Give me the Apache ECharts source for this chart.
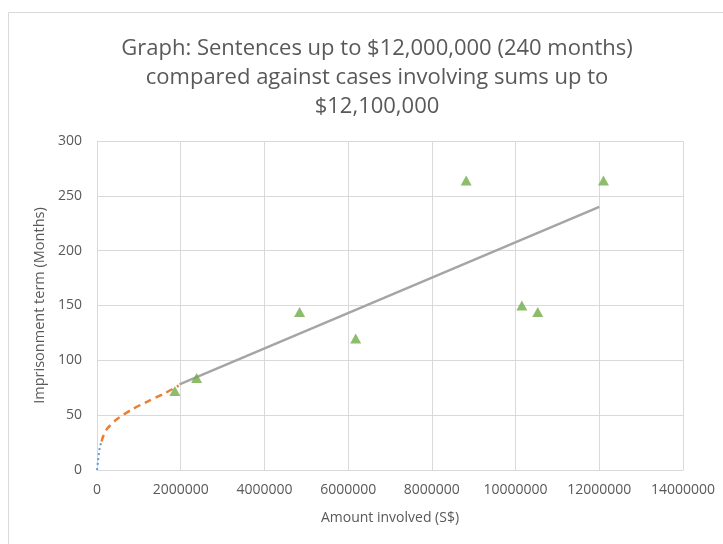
<!DOCTYPE html>
<html>
<head>
<meta charset="utf-8">
<script src="https://cdn.jsdelivr.net/npm/echarts@6/dist/echarts.min.js"></script>
<style>
  html, body { margin: 0; padding: 0; background: #fff; }
  #chart { width: 723px; height: 544px; }
</style>
</head>
<body>
<div id="chart"></div>
<script>
// cases plotted as triangles
const caseAmounts = [1860000, 2380000, 4840000, 6180000, 8820000, 10150000, 10530000, 12100000];
const caseMonths = [72, 84, 144, 120, 264, 150, 144, 264];

// sentencing scale
const blueAmounts = [0, 24000, 41000, 65000, 100000];
const blueMonths = [0, 8, 14, 20, 25];
const orangeAmounts = [110000, 150000, 250000, 465000, 825000, 1180000, 1620000, 1950000];
const orangeMonths = [26, 31, 38, 46, 55, 62, 70, 77];
const greyAmounts = [1970000, 12000000];
const greyMonths = [78, 240];

const xTicks = { min: 0, max: 14000000, interval: 2000000 };
const yTicks = { min: 0, max: 300, interval: 50 };

const zip = (xs, ys) => xs.map((x, i) => [x, ys[i]]);

const FONT = '"Open Sans", "Noto Sans", sans-serif';
const TXT = '#595959';
const GRID = '#d9d9d9';

const chart = echarts.init(document.getElementById('chart'));
chart.setOption({
  animation: false,
  title: {
    text: 'Graph: Sentences up to $12,000,000 (240 months)\ncompared against cases involving sums up to\n$12,100,000',
    left: 372,
    top: 29,
    textAlign: 'center',
    textStyle: {
      fontFamily: FONT,
      fontSize: 22,
      fontWeight: 'normal',
      color: TXT,
      lineHeight: 29
    }
  },
  graphic: [{
    type: 'rect',
    shape: { x: 8.5, y: 12.5, width: 800, height: 600 },
    style: { fill: 'none', stroke: GRID, lineWidth: 1 },
    silent: true
  }],
  grid: { left: 97, right: 40, top: 141, bottom: 74 },
  xAxis: {
    type: 'value',
    min: xTicks.min,
    max: xTicks.max,
    interval: xTicks.interval,
    name: 'Amount involved (S$)',
    nameLocation: 'middle',
    nameGap: 41,
    nameTextStyle: { fontFamily: FONT, fontSize: 14, color: TXT },
    axisLine: { show: true, lineStyle: { color: GRID } },
    axisTick: { show: false },
    axisLabel: {
      fontFamily: FONT, fontSize: 14, color: TXT, margin: 13,
      formatter: (v) => String(v)
    },
    splitLine: { show: true, lineStyle: { color: GRID } }
  },
  yAxis: {
    type: 'value',
    min: yTicks.min,
    max: yTicks.max,
    interval: yTicks.interval,
    name: 'Imprisonment term (Months)',
    nameLocation: 'middle',
    nameGap: 47,
    nameTextStyle: { fontFamily: FONT, fontSize: 14.5, color: TXT },
    axisLine: { show: false },
    axisTick: { show: false },
    axisLabel: { fontFamily: FONT, fontSize: 14, color: TXT, margin: 15 },
    splitLine: { show: true, lineStyle: { color: GRID } }
  },
  series: [
    {
      type: 'line',
      data: zip(blueAmounts, blueMonths),
      smooth: 0.3,
      symbol: 'none',
      lineStyle: { color: '#5B9BD5', width: 2, type: [2, 3] }
    },
    {
      type: 'line',
      data: zip(orangeAmounts, orangeMonths),
      smooth: 0.3,
      symbol: 'none',
      lineStyle: { color: '#ED7D31', width: 2.5, type: [7, 5] }
    },
    {
      type: 'line',
      data: zip(greyAmounts, greyMonths),
      symbol: 'none',
      lineStyle: { color: '#A5A5A5', width: 2.5 }
    },
    {
      type: 'scatter',
      data: zip(caseAmounts, caseMonths),
      symbol: 'triangle',
      symbolSize: [11, 10],
      itemStyle: { color: '#70AD47' },
      z: 5
    }
  ]
});
</script>
</body>
</html>
